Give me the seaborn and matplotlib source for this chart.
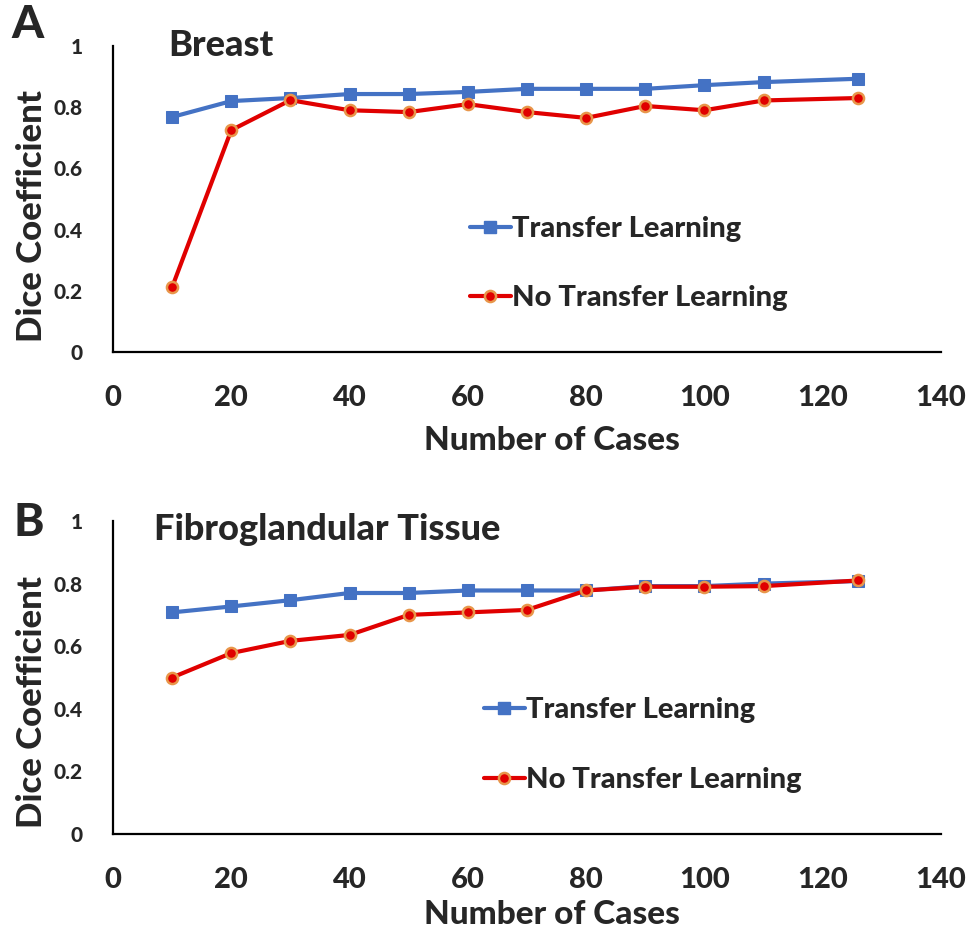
import matplotlib
matplotlib.use("Agg")
import matplotlib.pyplot as plt
import seaborn as sns
import pandas as pd
from matplotlib.lines import Line2D

cases = [10, 20, 30, 40, 50, 60, 70, 80, 90, 100, 110, 126]
breast_tl = [0.768, 0.82, 0.83, 0.843, 0.843, 0.85, 0.86, 0.86, 0.86, 0.872, 0.882, 0.893]
breast_no = [0.212, 0.725, 0.823, 0.79, 0.784, 0.81, 0.784, 0.765, 0.804, 0.79, 0.822, 0.83]
fgt_tl = [0.708, 0.727, 0.747, 0.77, 0.77, 0.778, 0.778, 0.778, 0.792, 0.792, 0.8, 0.808]
fgt_no = [0.50, 0.578, 0.617, 0.636, 0.70, 0.708, 0.716, 0.778, 0.79, 0.79, 0.792, 0.81]
series_names = ["Transfer Learning", "No Transfer Learning"]
panel_titles = ["Breast", "Fibroglandular Tissue"]
panel_letters = ["A", "B"]
x_ticks = [0, 20, 40, 60, 80, 100, 120, 140]
y_ticks = [0, 0.2, 0.4, 0.6, 0.8, 1]
y_ticklabels = ["0", "0.2", "0.4", "0.6", "0.8", "1"]

sns.set_theme(style="white")
plt.rcParams["font.family"] = ["Lato", "DejaVu Sans"]
WT = 900
plt.rcParams["font.weight"] = WT

W, H = 980, 935
fig = plt.figure(figsize=(W / 100, H / 100), dpi=100)

BLUE = "#4472C4"
RED = "#E00000"
ORANGE = "#E8964A"

def fx(px):
    return px / W

def fy(py):
    return 1 - py / H

panels = [
    dict(top=46, bottom=352, tl=breast_tl, no=breast_no, title_xy=(168, 45),
         letter_xy=(28, 25), ylab_y=216, xlab_y=440, leg_y=(229, 298), leg_x=470),
    dict(top=521, bottom=834, tl=fgt_tl, no=fgt_no, title_xy=(154, 530),
         letter_xy=(29, 523), ylab_y=702, xlab_y=915, leg_y=(710, 780), leg_x=484),
]

for i, p in enumerate(panels):
    ax = fig.add_axes([fx(113), fy(p["bottom"]), fx(941) - fx(113), fy(p["top"]) - fy(p["bottom"])])
    df = pd.DataFrame({
        "cases": cases * 2,
        "dice": p["tl"] + p["no"],
        "series": [series_names[0]] * len(cases) + [series_names[1]] * len(cases),
    })
    sns.lineplot(data=df[df.series == series_names[0]], x="cases", y="dice", ax=ax,
                 color=BLUE, lw=3, marker="s", markersize=8, markeredgecolor=BLUE,
                 markerfacecolor=BLUE, legend=False, zorder=3)
    sns.lineplot(data=df[df.series == series_names[1]], x="cases", y="dice", ax=ax,
                 color=RED, lw=3, marker="o", markersize=8, markeredgecolor=ORANGE,
                 markeredgewidth=1.8, markerfacecolor=RED, legend=False, zorder=4)
    ax.set_xlim(0, 140)
    ax.set_ylim(0, 1)
    ax.set_xticks(x_ticks)
    ax.set_xticklabels([str(t) for t in x_ticks], fontsize=21, fontweight=WT)
    ax.set_yticks(y_ticks)
    ax.set_yticklabels(y_ticklabels, fontsize=15, fontweight=WT)
    ax.tick_params(axis="x", length=0, pad=24)
    ax.tick_params(axis="y", length=0, pad=22)
    ax.set_xlabel("")
    ax.set_ylabel("")
    for s in ["top", "right"]:
        ax.spines[s].set_visible(False)
    for s in ["left", "bottom"]:
        ax.spines[s].set_color("black")
        ax.spines[s].set_linewidth(1.6)

    fig.text(fx(p["title_xy"][0]), fy(p["title_xy"][1]), panel_titles[i], fontsize=26,
             fontweight=WT, ha="left", va="center")
    fig.text(fx(p["letter_xy"][0]), fy(p["letter_xy"][1]), panel_letters[i], fontsize=33,
             fontweight=WT, ha="center", va="center")
    fig.text(fx(32), fy(p["ylab_y"]), "Dice Coefficient", fontsize=25, fontweight=WT,
             rotation=90, ha="center", va="center")
    fig.text(fx(552), fy(p["xlab_y"]), "Number of Cases", fontsize=24, fontweight=WT,
             ha="center", va="center")

    handles = [
        Line2D([0], [0], color=BLUE, lw=3, marker="s", markersize=8, markerfacecolor=BLUE,
               markeredgecolor=BLUE),
        Line2D([0], [0], color=RED, lw=3, marker="o", markersize=8, markerfacecolor=RED,
               markeredgecolor=ORANGE, markeredgewidth=1.8),
    ]
    for h, name, ly in zip(handles, series_names, p["leg_y"]):
        leg = fig.legend([h], [name], loc="center left",
                         bbox_to_anchor=(fx(p["leg_x"]), fy(ly)), frameon=False,
                         prop={"size": 21, "weight": WT}, handlelength=1.4,
                         handletextpad=0.05, borderpad=0, borderaxespad=0)

fig.savefig("out.png", dpi=100)
